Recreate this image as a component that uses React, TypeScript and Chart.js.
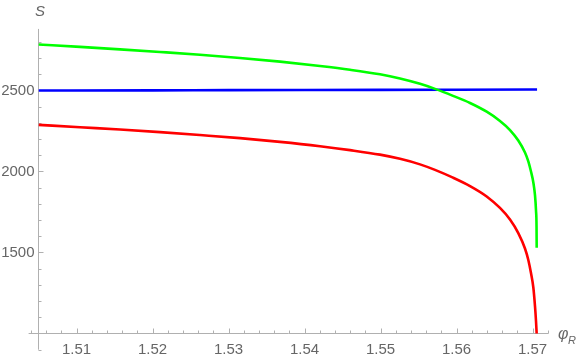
import React, { useEffect, useRef } from "react";
import { Chart, registerables } from "chart.js";

Chart.register(...registerables);

// ---- data ----
const greenPhi = [1.505, 1.51046, 1.51572, 1.52099, 1.52625, 1.53151, 1.53678, 1.54204, 1.54599, 1.54993, 1.55257, 1.5552, 1.55717, 1.55954, 1.56178, 1.56397, 1.56572, 1.56704, 1.56813, 1.56901, 1.56945, 1.5698, 1.57011, 1.57033, 1.57046, 1.57053, 1.57055];
const greenS = [2784, 2769, 2754, 2738, 2721, 2701, 2678, 2651, 2628, 2600, 2574, 2541, 2510, 2467, 2423, 2369, 2312, 2256, 2191, 2117, 2062, 2000, 1932, 1852, 1759, 1660, 1530];

const redPhi = [1.505, 1.51046, 1.51572, 1.52099, 1.52625, 1.53151, 1.53678, 1.54204, 1.54599, 1.54993, 1.55257, 1.5552, 1.55717, 1.55954, 1.56178, 1.56397, 1.56572, 1.56704, 1.56813, 1.56901, 1.56945, 1.5698, 1.57011, 1.57033, 1.57046, 1.57055];
const redS = [2288, 2273, 2259, 2243, 2225, 2206, 2183, 2156, 2132, 2104, 2078, 2044, 2010, 1962, 1910, 1846, 1775, 1704, 1620, 1525, 1454, 1373, 1284, 1167, 1077, 997];

const bluePhi = [1.505, 1.52, 1.53, 1.54, 1.55, 1.56, 1.5706];
const blueS = [2500, 2501, 2502, 2503, 2504, 2505, 2506];

const xTickLabels = [1.51, 1.52, 1.53, 1.54, 1.55, 1.56, 1.57];
const yTickLabels = [1500, 2000, 2500];

const X_MIN = 1.505;
const X_MAX = 1.571868;
const Y_MIN = 1000;
const Y_MAX = 2879.6;

const FONT = "'Liberation Sans', Arial, sans-serif";
const AXIS_COLOR = "#b0b0b0";
const LABEL_COLOR = "#666666";

const toPoints = (xs: number[], ys: number[]) => xs.map((x, i) => ({ x, y: ys[i] }));

const axesPlugin = {
  id: "mmaAxes",
  beforeDatasetsDraw(chart: any) {
    const { ctx, scales } = chart;
    const xs = scales.x;
    const ys = scales.y;
    const x0 = xs.getPixelForValue(X_MIN);
    const y0 = ys.getPixelForValue(Y_MIN);
    ctx.save();
    ctx.strokeStyle = AXIS_COLOR;
    ctx.lineWidth = 1;
    // x axis
    ctx.beginPath();
    ctx.moveTo(xs.getPixelForValue(1.5037), y0);
    ctx.lineTo(xs.getPixelForValue(1.5721), y0);
    ctx.stroke();
    // y axis
    ctx.beginPath();
    ctx.moveTo(x0, ys.getPixelForValue(2880));
    ctx.lineTo(x0, ys.getPixelForValue(900));
    ctx.stroke();
    // x ticks
    for (let k = 0; k <= 34; k++) {
      const v = 1.504 + k * 0.002;
      const major = Math.abs(v * 100 - Math.round(v * 100)) < 1e-6;
      const len = major ? 5 : 3;
      const px = Math.round(xs.getPixelForValue(v)) + 0.5;
      ctx.beginPath();
      ctx.moveTo(px, y0);
      ctx.lineTo(px, y0 - len);
      ctx.stroke();
    }
    // y ticks
    for (let v = 900; v <= 2800; v += 100) {
      if (v === 1000) continue;
      const major = v % 500 === 0;
      const len = major ? 5 : 3;
      const py = Math.round(ys.getPixelForValue(v)) + 0.5;
      ctx.beginPath();
      ctx.moveTo(x0, py);
      ctx.lineTo(x0 + len, py);
      ctx.stroke();
    }
    // axis titles
    ctx.fillStyle = LABEL_COLOR;
    ctx.textBaseline = "alphabetic";
    ctx.textAlign = "center";
    ctx.font = `italic 15px ${FONT}`;
    ctx.fillText("S", x0 + 1.5, 16);
    ctx.textAlign = "left";
    ctx.font = `italic 16px ${FONT}`;
    ctx.fillText("φ", 558, y0 + 5);
    ctx.font = `italic 11px ${FONT}`;
    ctx.fillText("R", 568, y0 + 10);
    ctx.restore();
  },
};

export default function App() {
  const ref = useRef<HTMLCanvasElement | null>(null);
  useEffect(() => {
    if (!ref.current) return;
    const common = { borderWidth: 2.6, pointRadius: 0, cubicInterpolationMode: "monotone", fill: false };
    const chart = new Chart(ref.current, {
      type: "line",
      data: {
        datasets: [
          { label: "green", data: toPoints(greenPhi, greenS), borderColor: "#00ff00", ...common },
          { label: "blue", data: toPoints(bluePhi, blueS), borderColor: "#0000ff", ...common },
          { label: "red", data: toPoints(redPhi, redS), borderColor: "#ff0000", ...common },
        ],
      },
      options: {
        responsive: false,
        animation: false,
        layout: { padding: { left: 0, top: 29, right: 34.3, bottom: 0 } },
        plugins: { legend: { display: false }, tooltip: { enabled: false } },
        elements: { point: { radius: 0 } },
        scales: {
          x: {
            type: "linear",
            position: "bottom",
            min: X_MIN,
            max: X_MAX,
            grid: { display: false, drawTicks: false },
            border: { display: false },
            afterBuildTicks: (s: any) => {
              s.ticks = xTickLabels.map((v) => ({ value: v }));
            },
            afterFit: (s: any) => {
              s.height = 25.5;
            },
            ticks: {
              autoSkip: false,
              maxRotation: 0,
              minRotation: 0,
              padding: 7,
              color: LABEL_COLOR,
              font: { family: FONT, size: 15 },
              callback: (v: any) => Number(v).toFixed(2),
            },
          },
          y: {
            type: "linear",
            position: "left",
            min: Y_MIN,
            max: Y_MAX,
            grid: { display: false, drawTicks: false },
            border: { display: false },
            afterBuildTicks: (s: any) => {
              s.ticks = yTickLabels.map((v) => ({ value: v }));
            },
            afterFit: (s: any) => {
              s.width = 38.5;
            },
            ticks: {
              autoSkip: false,
              padding: 4,
              color: LABEL_COLOR,
              font: { family: FONT, size: 15 },
              callback: (v: any) => String(v),
            },
          },
        },
      },
      plugins: [axesPlugin],
    } as any);
    return () => chart.destroy();
  }, []);
  return (
    <div style={{ position: "fixed", left: 0, top: 0, width: 581, height: 359, background: "#fff" }}>
      <canvas ref={ref} width={581} height={359} style={{ display: "block", width: 581, height: 359 }} />
    </div>
  );
}
